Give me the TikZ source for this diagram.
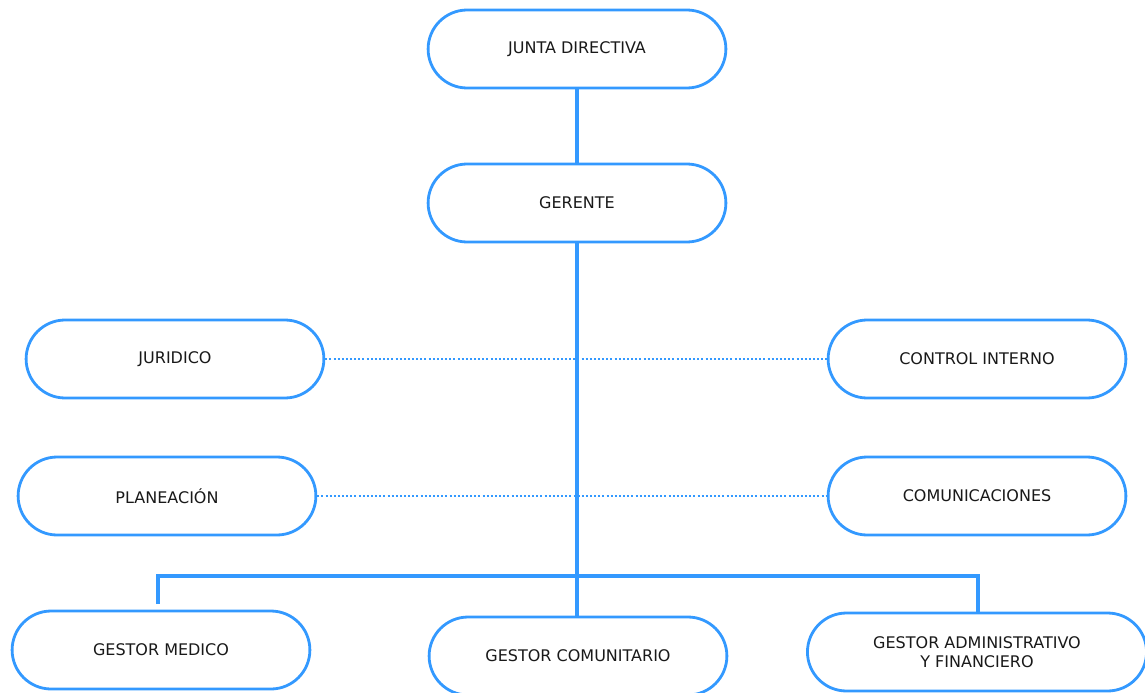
\documentclass[tikz,border=0pt]{standalone}
\usepackage{fontspec}
\setmainfont{DejaVu Sans}
\usetikzlibrary{shapes.misc}
\definecolor{bl}{RGB}{51,153,255}
\begin{document}
\begin{tikzpicture}[x=0.75pt,y=-0.75pt,
  box/.style={draw=bl,line width=2.1pt,fill=white,rounded rectangle,
    rounded rectangle arc length=180,
    minimum width=230pt,minimum height=58.5pt,align=center,
    font=\fontsize{12}{14.5}\selectfont,text=black!90},
  conn/.style={draw=bl,line width=2.5pt},
  dot/.style={draw=bl,line width=2pt,dash pattern=on 1.5pt off 1.6pt}]
\useasboundingbox (0,0) rectangle (1145,692);
\node[box] (junta) at (577,49) {JUNTA DIRECTIVA};
\node[box] (gerente) at (577,203) {GERENTE};
\node[box] (jur) at (175,359) {JURIDICO};
\node[box] (ctrl) at (977,359) {CONTROL INTERNO};
\node[box] (plan) at (167,496) {PLANEACIÓN};
\node[box] (com) at (977,496) {COMUNICACIONES};
\node[box] (med) at (161,650) {GESTOR MEDICO};
\node[box] (comu) at (578,656) {GESTOR COMUNITARIO};
\node[box,minimum width=261pt] (adm) at (977,652) {GESTOR ADMINISTRATIVO\\Y FINANCIERO};
\coordinate (mtop) at (158,604);
\coordinate (bl1) at (158,576);
\coordinate (br1) at (978,576);
\draw[dot] (jur.east) -- (ctrl.west);
\draw[dot] (plan.east) -- (com.west);
\draw[conn] (junta.south) -- (gerente.north);
\draw[conn] (gerente.south) -- (gerente.south |- comu.north);
\draw[conn] (mtop) -- (bl1) -- (br1) -- (br1 |- adm.north);
\end{tikzpicture}
\end{document}
